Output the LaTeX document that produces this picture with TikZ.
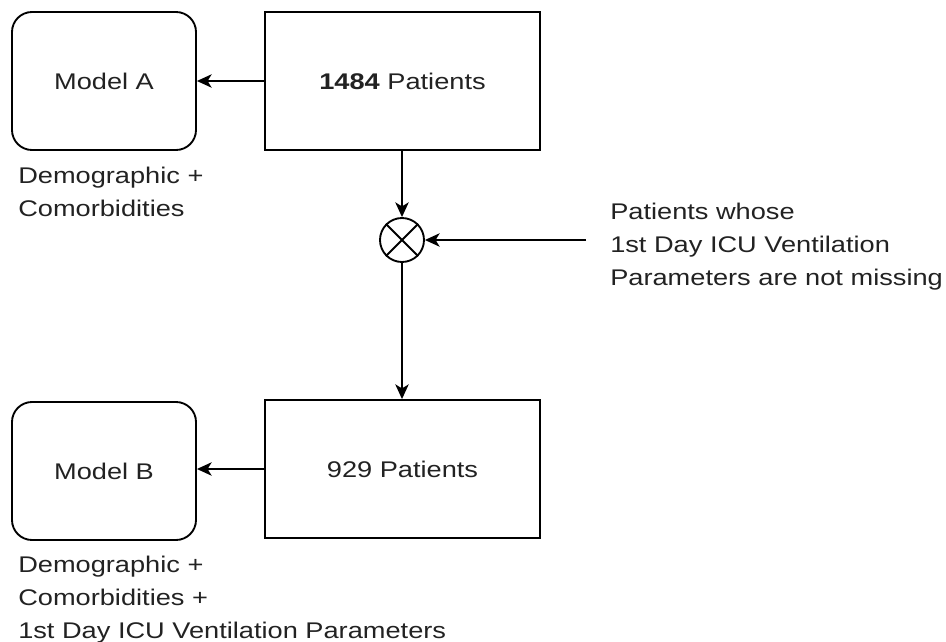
\documentclass[tikz,border=0pt]{standalone}
\usepackage{fontspec}
\setmainfont{Liberation Sans}[FakeStretch=1.2]
\usetikzlibrary{arrows.meta}
\definecolor{txt}{HTML}{222222}
\begin{document}
\begin{tikzpicture}[x=0.75pt,y=-0.75pt,
  every node/.style={font=\fontsize{17pt}{24.75pt}\selectfont, text=txt},
  box/.style={draw, line width=1.4pt, minimum width=206pt, minimum height=103.5pt, inner sep=0pt},
  model/.style={draw, line width=1.4pt, rounded corners=15pt, minimum width=138pt, minimum height=103.5pt, inner sep=0pt},
  lbl/.style={align=left, anchor=north west, inner sep=0pt},
  conn/.style={line width=1.4pt, -{Stealth[length=11pt,width=10pt,inset=3pt]}}]
\useasboundingbox (0,0) rectangle (946,642);
\node[box] (p1) at (402.5,81) {\textbf{1484} Patients};
\node[model] (ma) at (104,81) {Model A};
\node[box] (p2) at (402.5,469) {929 Patients};
\node[model] (mb) at (104,471) {Model B};
\node[draw, circle, line width=1.4pt, minimum size=33pt, inner sep=0pt] (x) at (402,240) {};
\draw[line width=1.4pt] (x.45) -- (x.225) (x.135) -- (x.315);
\coordinate (src) at (586,240);
\node[lbl] (la) at (18,167) {Demographic +\\Comorbidities};
\node[lbl] (lb) at (18,556) {Demographic +\\Comorbidities +\\1st Day ICU Ventilation Parameters};
\node[lbl] (lc) at (610,203) {Patients whose\\1st Day ICU Ventilation\\Parameters are not missing};
\draw[conn] (p1.west) -- (ma.east);
\draw[conn] (p2.west) -- (mb.east |- p2.west);
\draw[conn] (p1.south -| x) -- (x.north);
\draw[conn] (src) -- (x.east);
\draw[conn] (x.south) -- (p2.north -| x);
\end{tikzpicture}
\end{document}
